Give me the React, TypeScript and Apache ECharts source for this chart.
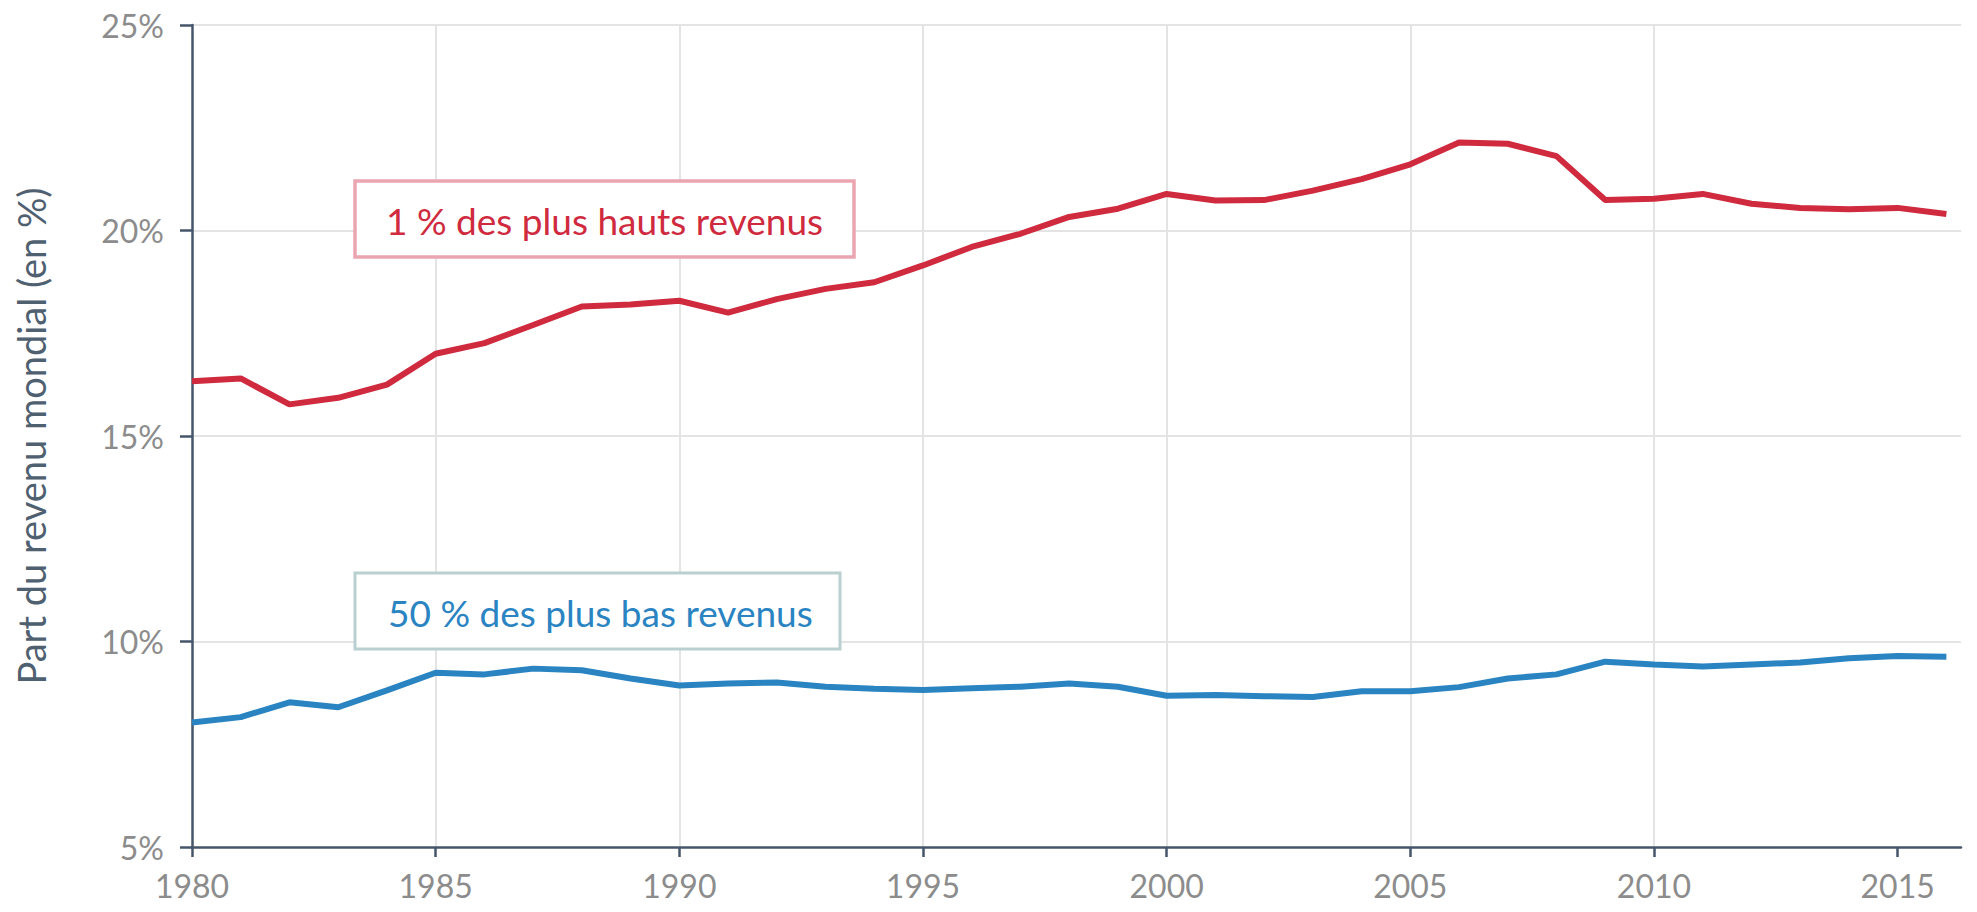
import React, { useEffect, useRef } from "react";
import * as echarts from "echarts";

const years: number[] = [
  1980, 1981, 1982, 1983, 1984, 1985, 1986, 1987, 1988, 1989,
  1990, 1991, 1992, 1993, 1994, 1995, 1996, 1997, 1998, 1999,
  2000, 2001, 2002, 2003, 2004, 2005, 2006, 2007, 2008, 2009,
  2010, 2011, 2012, 2013, 2014, 2015, 2016,
];

const top1Share: number[] = [
  16.33, 16.4, 15.77, 15.93, 16.25, 17.0, 17.26, 17.7, 18.15, 18.2,
  18.29, 18.0, 18.33, 18.58, 18.74, 19.15, 19.6, 19.92, 20.33, 20.53,
  20.89, 20.73, 20.74, 20.97, 21.25, 21.61, 22.14, 22.11, 21.81, 20.74,
  20.77, 20.89, 20.65, 20.55, 20.52, 20.55, 20.4,
];

const bottom50Share: number[] = [
  8.03, 8.16, 8.52, 8.4, 8.81, 9.24, 9.2, 9.34, 9.3, 9.1,
  8.93, 8.98, 9.0, 8.9, 8.85, 8.82, 8.86, 8.9, 8.98, 8.9,
  8.68, 8.7, 8.67, 8.65, 8.79, 8.79, 8.89, 9.1, 9.2, 9.51,
  9.44, 9.39, 9.44, 9.49, 9.59, 9.65, 9.63,
];

const xTickYears: number[] = [1980, 1985, 1990, 1995, 2000, 2005, 2010, 2015];
const yTicks: number[] = [5, 10, 15, 20, 25];

const topLabel = "1 % des plus hauts revenus";
const bottomLabel = "50 % des plus bas revenus";
const yTitle = "Part du revenu mondial (en %)";

const RED = "#cf2a3e";
const BLUE = "#2a84c2";
const AXIS = "#46566a";
const FONT = "Lato, 'Noto Sans', sans-serif";

export default function App() {
  const ref = useRef<HTMLDivElement>(null);

  useEffect(() => {
    if (!ref.current) return;
    const chart = echarts.init(ref.current, undefined, { renderer: "svg" });
    chart.setOption({
      animation: false,
      backgroundColor: "#ffffff",
      textStyle: { fontFamily: FONT },
      grid: { left: 192, right: 16, top: 25, bottom: 65, containLabel: false },
      xAxis: {
        type: "value",
        min: years[0],
        max: 2016.3,
        interval: 5,
        axisLine: { show: true, lineStyle: { color: AXIS, width: 2.5 } },
        axisTick: {
          show: true,
          length: 10,
          lineStyle: { color: AXIS, width: 2.5 },
          customValues: xTickYears,
        },
        axisLabel: {
          color: "#8c8c8c",
          fontSize: 32,
          fontFamily: FONT,
          margin: 22,
          customValues: xTickYears,
          formatter: (v: number) => String(v),
        },
        splitLine: {
          show: true,
          showMinLine: false,
          showMaxLine: false,
          lineStyle: { color: "#e4e4e4", width: 2 },
        },
      },
      yAxis: {
        type: "value",
        min: yTicks[0],
        max: yTicks[yTicks.length - 1],
        interval: 5,
        name: yTitle,
        nameLocation: "middle",
        nameRotate: 90,
        nameGap: 142,
        nameTextStyle: { color: "#4f6070", fontSize: 38, fontFamily: FONT },
        axisLine: { show: true, lineStyle: { color: AXIS, width: 2.5 } },
        axisTick: { show: true, length: 12, lineStyle: { color: AXIS, width: 2.5 } },
        axisLabel: {
          color: "#8c8c8c",
          fontSize: 32,
          fontFamily: FONT,
          margin: 28,
          formatter: (v: number) => `${v}%`,
        },
        splitLine: {
          show: true,
          showMinLine: false,
          lineStyle: { color: "#e4e4e4", width: 2 },
        },
      },
      series: [
        {
          name: topLabel,
          type: "line",
          data: years.map((y, i) => [y, top1Share[i]]),
          showSymbol: false,
          lineStyle: { color: RED, width: 6 },
          z: 3,
        },
        {
          name: bottomLabel,
          type: "line",
          data: years.map((y, i) => [y, bottom50Share[i]]),
          showSymbol: false,
          lineStyle: { color: BLUE, width: 6 },
          z: 3,
        },
      ],
      graphic: [
        {
          type: "rect",
          shape: { x: 355, y: 181, width: 499, height: 76 },
          style: { fill: "#ffffff", stroke: "#eba5b0", lineWidth: 3.5 },
          z: 10,
        },
        {
          type: "text",
          x: 386,
          y: 220,
          style: {
            text: topLabel,
            fill: RED,
            font: `37px ${FONT}`,
            textVerticalAlign: "middle",
            verticalAlign: "middle",
          },
          z: 11,
        },
        {
          type: "rect",
          shape: { x: 355, y: 573, width: 485, height: 76 },
          style: { fill: "#ffffff", stroke: "#b9cfd0", lineWidth: 3 },
          z: 10,
        },
        {
          type: "text",
          x: 388,
          y: 612,
          style: {
            text: bottomLabel,
            fill: BLUE,
            font: `37px ${FONT}`,
            textVerticalAlign: "middle",
            verticalAlign: "middle",
          },
          z: 11,
        },
      ],
    });
    return () => chart.dispose();
  }, []);

  return (
    <div
      ref={ref}
      style={{ position: "absolute", left: 0, top: 0, width: 1977, height: 912 }}
    />
  );
}
